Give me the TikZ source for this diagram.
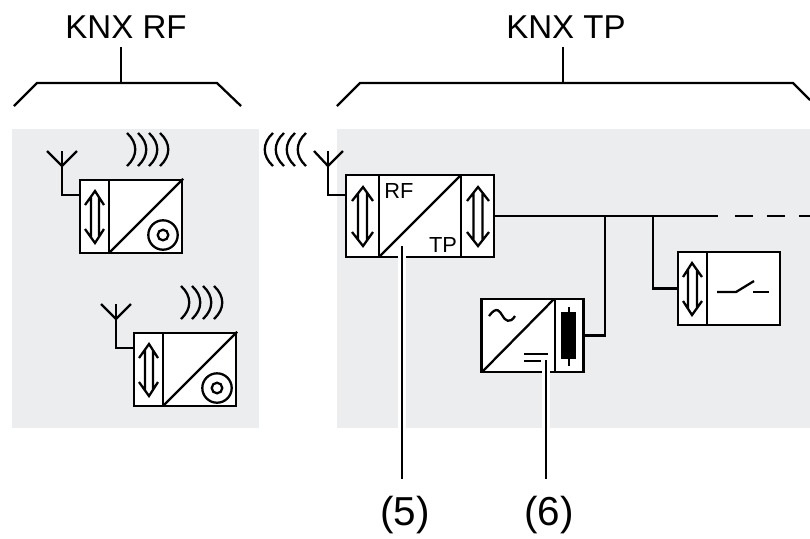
\documentclass[tikz,border=0pt]{standalone}
\usepackage{fontspec}
\setmainfont{Liberation Sans}
\definecolor{panelgray}{RGB}{236,237,239}
\tikzset{
  modbox/.style={draw,fill=white,inner sep=0pt,minimum width=1.02cm,minimum height=0.73cm},
  bigtext/.style={font=\fontsize{9.4pt}{11pt}\selectfont,inner sep=0pt},
  reftext/.style={font=\fontsize{11.5pt}{13pt}\selectfont,inner sep=0pt},
  smalltext/.style={font=\fontsize{6.2pt}{7pt}\selectfont,inner sep=0pt},
  leader/.style={preaction={draw,white,line width=2.4pt},shorten >=0.16cm},
}
\begin{document}
\begin{tikzpicture}[x=0.01cm,y=-0.01cm,line width=0.65pt]
\useasboundingbox (0,0) rectangle (810,538);

\fill[panelgray] (12,129) rectangle (259,428); %left panel
\fill[panelgray] (337,129) rectangle (810,428); %right panel

\node[bigtext] (titleRF) at (126,27) {KNX RF};
\node[bigtext] (titleTP) at (566,27) {KNX TP};

\draw (14,106) -- (37,83) -- (217,83) -- (241,106); %bracket RF
\draw (121,47) -- (121,83);
\draw (337,106) -- (360,83) -- (793,83) -- (810,100); %bracket TP
\draw (563,47) -- (563,83);

\node[modbox] (modA) at (131,216.5) {};
\node[modbox] (modB) at (185,369.5) {};
\node[modbox,minimum width=1.48cm,minimum height=0.82cm] (modRF) at (420,216) {};
\node[modbox] (modPS) at (532.5,335.5) {};
\node[modbox] (modSw) at (729,288.5) {};

\coordinate (antA) at (62,151);
\coordinate (antB) at (116,304);
\coordinate (antRF) at (328,151);
\coordinate (stubA) at (80,195);
\coordinate (stubB) at (134,348);
\coordinate (stubRF) at (346,195);

\draw (47,151) -- (62,166) -- (77,151); %antenna
\draw (antA) |- (stubA);
\draw (101,304) -- (116,319) -- (131,304);
\draw (antB) |- (stubB);
\draw (314,151) -- (328,166) -- (343,151);
\draw (antRF) |- (stubRF);

\draw (127,133) .. controls (138,143) and (138,156) .. (127,166)
      (138,133) .. controls (149,143) and (149,156) .. (138,166)
      (149,133) .. controls (160,143) and (160,156) .. (149,166)
      (160,133) .. controls (171,143) and (171,156) .. (160,166); %waves
\draw (181,286) .. controls (192,296) and (192,309) .. (181,319)
      (192,286) .. controls (203,296) and (203,309) .. (192,319)
      (203,286) .. controls (214,296) and (214,309) .. (203,319)
      (214,286) .. controls (225,296) and (225,309) .. (214,319);
\draw (273,133) .. controls (262,143) and (262,156) .. (273,166)
      (284,133) .. controls (273,143) and (273,156) .. (284,166)
      (295,133) .. controls (284,143) and (284,156) .. (295,166)
      (306,133) .. controls (295,143) and (295,156) .. (306,166);

\draw (109,180) -- (109,253); %module A
\draw (109,253) -- (modA.north east);
\draw (163,235) circle (14.7*0.01cm);
\draw (163,235) circle (5.3*0.01cm);
\draw (85,205) -- (95,191) -- (104,205) (85,229) -- (95,243) -- (104,229)
      (91,197) -- (91,237) (99,197) -- (99,237);

\draw (163,333) -- (163,406); %module B
\draw (163,406) -- (modB.north east);
\draw (217,388) circle (14.7*0.01cm);
\draw (217,388) circle (5.3*0.01cm);
\draw (139,358) -- (149,344) -- (158,358) (139,382) -- (149,396) -- (158,382)
      (145,350) -- (145,390) (153,350) -- (153,390);

\draw (379,175) -- (379,257); %coupler
\draw (461,175) -- (461,257);
\draw (379,257) -- (461,175);
\draw (352,201) -- (363,187) -- (373,201) (352,232) -- (363,246) -- (373,232)
      (358,193) -- (358,240) (367,193) -- (367,240);
\draw (467,201) -- (478,187) -- (489,201) (467,232) -- (478,246) -- (489,232)
      (473.5,193) -- (473.5,240) (482.5,193) -- (482.5,240);
\node[smalltext] (txtRF) at (399,191) {RF};
\node[smalltext] (txtTP) at (443,245) {TP};

\draw (555,299) -- (555,372); %power supply
\draw (482,372) -- (554,299);
\draw (489,316) .. controls (497,305) and (500,312) .. (502,315) .. controls (505,321) and (510,324) .. (515,316);
\draw (524,354) -- (548,354);
\draw (524,361) -- (541,361);
\draw[fill=black] (562,313) rectangle (575,358);
\draw (569,307) -- (569,366);

\draw (707,252) -- (707,325); %switch actuator
\draw (683,277) -- (692,263) -- (702,277) (683,301) -- (692,315) -- (702,301)
      (688,269) -- (688,309) (697,269) -- (697,309);
\draw (717,292) -- (736,292) -- (754,281);
\draw (753,292) -- (769,292);

\coordinate (busEnd) at (718,216);
\coordinate (busDash) at (735,216);
\coordinate (busOut) at (810,216);
\coordinate (tapPS) at (605,216);
\coordinate (tapSw) at (653,216);

\draw (modRF.east) -- (busEnd); %bus
\draw[dash pattern=on 0.18cm off 0.14cm] (busDash) -- (busOut);
\draw (tapPS) |- (modPS.east);
\draw (tapSw) |- (modSw.west);

\node[reftext] (refFive) at (405,515) {(5)};
\node[reftext] (refSix) at (549,515) {(6)};
\coordinate (ldFive) at (402,246);
\coordinate (ldSix) at (546,360);
\draw[leader] (ldFive) -- (ldFive |- refFive.north);
\draw[leader] (ldSix) -- (ldSix |- refSix.north);
\end{tikzpicture}
\end{document}
